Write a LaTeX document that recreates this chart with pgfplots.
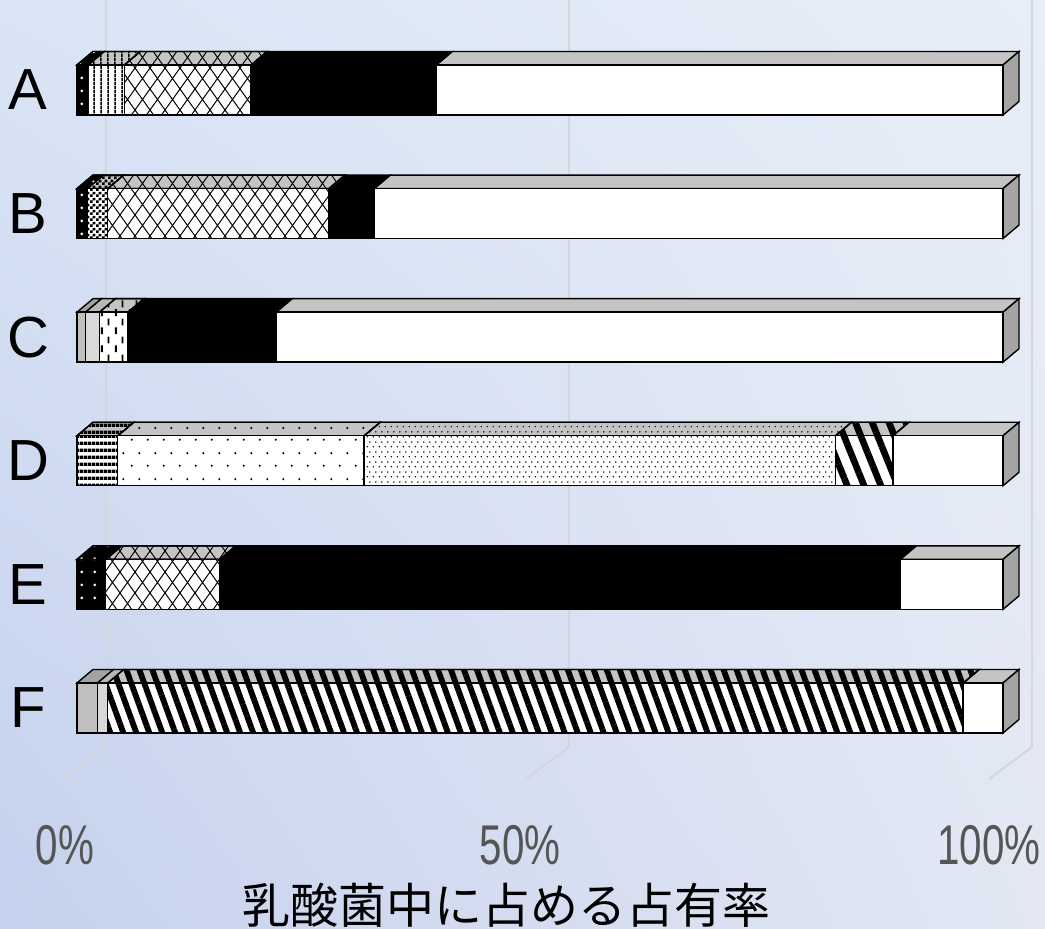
\documentclass[border=0pt]{standalone}
\usepackage{fontspec}
\setmainfont{Liberation Sans}
\newfontfamily\jp{Noto Sans CJK JP}
\usepackage{graphicx}
\usepackage{pgfplots}
\pgfplotsset{compat=1.18}
\usepackage{pgfplotstable}
\usetikzlibrary{patterns,patterns.meta,shadings}

\definecolor{bgUL}{HTML}{D9E4F5}
\definecolor{bgUR}{HTML}{E8EEF8}
\definecolor{bgLL}{HTML}{C5D1ED}
\definecolor{bgLR}{HTML}{E2E7F3}
\definecolor{gridc}{HTML}{D4D6DA}
\definecolor{topg}{HTML}{C4C4C4}
\definecolor{sideg}{HTML}{A4A4A4}
\definecolor{g1}{HTML}{BFBFBF}
\definecolor{g2}{HTML}{D9D9D9}
\definecolor{tickgray}{HTML}{555555}

% ---------- patterns ----------
\pgfdeclarepatternformonly{wdots}{\pgfpointorigin}{\pgfpoint{6.5pt}{6.5pt}}{\pgfpoint{6.5pt}{6.5pt}}{%
  \pgfpathcircle{\pgfpoint{2pt}{3.25pt}}{0.8pt}\pgfusepath{fill}}
\pgfdeclarepatternformonly{vlines}{\pgfpointorigin}{\pgfpoint{3.25pt}{2pt}}{\pgfpoint{3.25pt}{2pt}}{%
  \pgfpathrectangle{\pgfpoint{1.2pt}{0pt}}{\pgfpoint{0.8pt}{2pt}}\pgfusepath{fill}}
\pgfdeclarepatternformonly{checker}{\pgfpointorigin}{\pgfpoint{3pt}{3pt}}{\pgfpoint{3pt}{3pt}}{%
  \pgfpathrectangle{\pgfpoint{0pt}{0pt}}{\pgfpoint{1.5pt}{1.5pt}}%
  \pgfpathrectangle{\pgfpoint{1.5pt}{1.5pt}}{\pgfpoint{1.5pt}{1.5pt}}\pgfusepath{fill}}
\pgfdeclarepatternformonly{vdashes}{\pgfpointorigin}{\pgfpoint{7pt}{9pt}}{\pgfpoint{7pt}{9pt}}{%
  \pgfpathrectangle{\pgfpoint{1.5pt}{0.5pt}}{\pgfpoint{1pt}{3.5pt}}%
  \pgfpathrectangle{\pgfpoint{5pt}{5pt}}{\pgfpoint{1pt}{3.5pt}}\pgfusepath{fill}}
\pgfdeclarepatternformonly{hlines}{\pgfpointorigin}{\pgfpoint{2pt}{3.3pt}}{\pgfpoint{2pt}{3.3pt}}{%
  \pgfpathrectangle{\pgfpoint{0pt}{0pt}}{\pgfpoint{2pt}{1.8pt}}\pgfusepath{fill}}
\pgfdeclarepatternformonly{diamonds}{\pgfpoint{-0.5pt}{-0.5pt}}{\pgfpoint{8pt}{11pt}}{\pgfpoint{7.5pt}{10.5pt}}{%
  \pgfsetlinewidth{0.5pt}%
  \pgfpathmoveto{\pgfpoint{-0.4pt}{-0.56pt}}\pgfpathlineto{\pgfpoint{7.9pt}{11.06pt}}%
  \pgfpathmoveto{\pgfpoint{-0.4pt}{11.06pt}}\pgfpathlineto{\pgfpoint{7.9pt}{-0.56pt}}\pgfusepath{stroke}}
\pgfdeclarepatternformonly{sdots}{\pgfpointorigin}{\pgfpoint{8pt}{12.7pt}}{\pgfpoint{8pt}{12.7pt}}{%
  \pgfpathcircle{\pgfpoint{2pt}{3.175pt}}{0.6pt}\pgfpathcircle{\pgfpoint{6pt}{9.525pt}}{0.6pt}\pgfusepath{fill}}
\pgfdeclarepatternformonly{ddots}{\pgfpointorigin}{\pgfpoint{3pt}{5pt}}{\pgfpoint{3pt}{5pt}}{%
  \pgfpathcircle{\pgfpoint{0.75pt}{1.25pt}}{0.45pt}\pgfpathcircle{\pgfpoint{2.25pt}{3.75pt}}{0.45pt}\pgfusepath{fill}}

% ---------- data (percent of each segment, A..F at y=5..0) ----------
\pgfplotstableread{
y   s1  s2  s3  s4  s5  s6  s7  s8   s9   s10  s11  s12a s12b s13
5   1.2 3.9 0   0   0   0   0   13.7 0    0    20.0 0    0    61.2
4   1.1 0   2.2 0   0   0   0   23.9 0    0    4.9  0    0    67.9
3   0   0   0   0.9 1.5 3.1 0   0    0    0    16.0 0    0    78.5
2   0   0   0   0   0   0   4.4 0    26.6 50.9 0    6.2  0    11.9
1   3.1 0   0   0   0   0   0   12.3 0    0    73.5 0    0    11.1
0   0   0   0   2.2 1.1 0   0   0    0    0    0    0    92.4 4.3
}\data

\pgfplotsset{
  base/.style={width=522.5pt,height=464.5pt,scale only axis,
    xmin=-8.315,xmax=104.536,ymin=-1.788,ymax=5.728,
    axis line style={draw=none},tick style={draw=none},
    xtick=\empty,ytick=\empty,clip=false},
  segs/.style={every axis plot/.append style={draw=black,line width=0.7pt}},
}

% top faces of all segments (same stacked data, drawn thin and sheared)
\newcommand{\topplots}{%
\addplot[fill=black,postaction={pattern=wdots,pattern color=white}] table[x=s1,y=y]{\data};
\addplot[fill=topg,postaction={pattern=vlines}] table[x=s2,y=y]{\data};
\addplot[fill=topg,postaction={pattern=checker}] table[x=s3,y=y]{\data};
\addplot[fill=g1!85!black] table[x=s4,y=y]{\data};
\addplot[fill=g2!85!black] table[x=s5,y=y]{\data};
\addplot[fill=topg,postaction={pattern=vdashes}] table[x=s6,y=y]{\data};
\addplot[fill=topg,postaction={pattern=hlines}] table[x=s7,y=y]{\data};
\addplot[fill=topg,postaction={pattern=diamonds}] table[x=s8,y=y]{\data};
\addplot[fill=topg,postaction={pattern=sdots}] table[x=s9,y=y]{\data};
\addplot[fill=topg,postaction={pattern=ddots}] table[x=s10,y=y]{\data};
\addplot[fill=black] table[x=s11,y=y]{\data};
\addplot[fill=topg,postaction={pattern={Lines[angle=-68,distance=7.8pt,line width=3.3pt]}}] table[x=s12a,y=y]{\data};
\addplot[fill=topg,postaction={pattern={Lines[angle=-70,distance=6.1pt,line width=2.9pt]}}] table[x=s12b,y=y]{\data};
\addplot[fill=topg] table[x=s13,y=y]{\data};
}
% #1 = canvas height of the bar's front top edge (pt), #2 = compensating shift (pt)
\newcommand{\toprow}[2]{%
\begin{scope}
\clip (-10pt,#1pt-0.6pt) rectangle (545pt,#1pt+7.4pt);
\begin{axis}[base,segs,xbar stacked,bar width=6.75pt,bar shift=15.875pt,
  xshift=#2pt,xslant=1.18519]
\topplots
\end{axis}
\end{scope}}

\begin{document}
\begin{tikzpicture}
% ---- background and grid ----
\begin{axis}[base]
\shade[upper left=bgUL,upper right=bgUR,lower left=bgLL,lower right=bgLR]
  (rel axis cs:0,0) rectangle (rel axis cs:1,1);
\draw[gridc,line width=1pt] (axis cs:3.13,5.728) -- (axis cs:3.13,-0.316) -- (axis cs:-1.51,-0.574);
\draw[gridc,line width=1pt] (axis cs:53.13,5.728) -- (axis cs:53.13,-0.316) -- (axis cs:48.49,-0.574);
\draw[gridc,line width=1pt] (axis cs:103.13,5.728) -- (axis cs:103.13,-0.316) -- (axis cs:98.49,-0.574);
\coordinate (bl) at (rel axis cs:0,0);
\coordinate (tr) at (rel axis cs:1,1);
\end{axis}

% ---- top faces, one sheared copy per bar ----
\toprow{123.00}{-145.78}
\toprow{184.80}{-219.02}
\toprow{246.60}{-292.27}
\toprow{308.40}{-365.51}
\toprow{370.21}{-438.76}
\toprow{432.01}{-512.01}

% ---- right side faces ----
\begin{axis}[base]
\addplot[fill=sideg,draw=black,line width=0.7pt] coordinates {(100,4.7977) (100,5.2023) (101.728,5.3115) (101.728,4.9069)} -- cycle;
\addplot[fill=sideg,draw=black,line width=0.7pt] coordinates {(100,3.7977) (100,4.2023) (101.728,4.3115) (101.728,3.9069)} -- cycle;
\addplot[fill=sideg,draw=black,line width=0.7pt] coordinates {(100,2.7977) (100,3.2023) (101.728,3.3115) (101.728,2.9069)} -- cycle;
\addplot[fill=sideg,draw=black,line width=0.7pt] coordinates {(100,1.7977) (100,2.2023) (101.728,2.3115) (101.728,1.9069)} -- cycle;
\addplot[fill=sideg,draw=black,line width=0.7pt] coordinates {(100,0.7977) (100,1.2023) (101.728,1.3115) (101.728,0.9069)} -- cycle;
\addplot[fill=sideg,draw=black,line width=0.7pt] coordinates {(100,-0.2023) (100,0.2023) (101.728,0.3115) (101.728,-0.0931)} -- cycle;
\end{axis}

% ---- front faces, labels ----
\begin{axis}[base,segs,xbar stacked,bar width=25pt,
  ytick={0,1,2,3,4,5},yticklabels={F,E,D,C,B,A},
  yticklabel style={anchor=center,xshift=14pt,font=\fontsize{29}{29}\selectfont,text=black},
  xtick={-1.3,47.84,98.5},
  xticklabels={{\scalebox{0.72}[1]{0\%}},{\scalebox{0.72}[1]{50\%}},{\scalebox{0.72}[1]{100\%}}},
  xticklabel style={anchor=center,yshift=42pt,font=\fontsize{28}{28}\selectfont,text=tickgray},
  /pgf/number format/assume math mode=true,
  xlabel={\jp 乳酸菌中に占める占有率},
  xlabel style={at={(axis description cs:0.485,0.026)},anchor=center,font=\fontsize{24}{24}\selectfont},
]
\addplot[fill=black,postaction={pattern=wdots,pattern color=white}] table[x=s1,y=y]{\data};
\addplot[fill=white,postaction={pattern=vlines}] table[x=s2,y=y]{\data};
\addplot[fill=white,postaction={pattern=checker}] table[x=s3,y=y]{\data};
\addplot[fill=g1] table[x=s4,y=y]{\data};
\addplot[fill=g2] table[x=s5,y=y]{\data};
\addplot[fill=white,postaction={pattern=vdashes}] table[x=s6,y=y]{\data};
\addplot[fill=white,postaction={pattern=hlines}] table[x=s7,y=y]{\data};
\addplot[fill=white,postaction={pattern=diamonds}] table[x=s8,y=y]{\data};
\addplot[fill=white,postaction={pattern=sdots}] table[x=s9,y=y]{\data};
\addplot[fill=white,postaction={pattern=ddots}] table[x=s10,y=y]{\data};
\addplot[fill=black] table[x=s11,y=y]{\data};
\addplot[fill=white,postaction={pattern={Lines[angle=-68,distance=7.8pt,line width=3.3pt]}}] table[x=s12a,y=y]{\data};
\addplot[fill=white,postaction={pattern={Lines[angle=-70,distance=6.1pt,line width=2.9pt]}}] table[x=s12b,y=y]{\data};
\addplot[fill=white] table[x=s13,y=y]{\data};
\end{axis}
\pgfresetboundingbox
\path (bl) rectangle (tr);
\end{tikzpicture}
\end{document}
